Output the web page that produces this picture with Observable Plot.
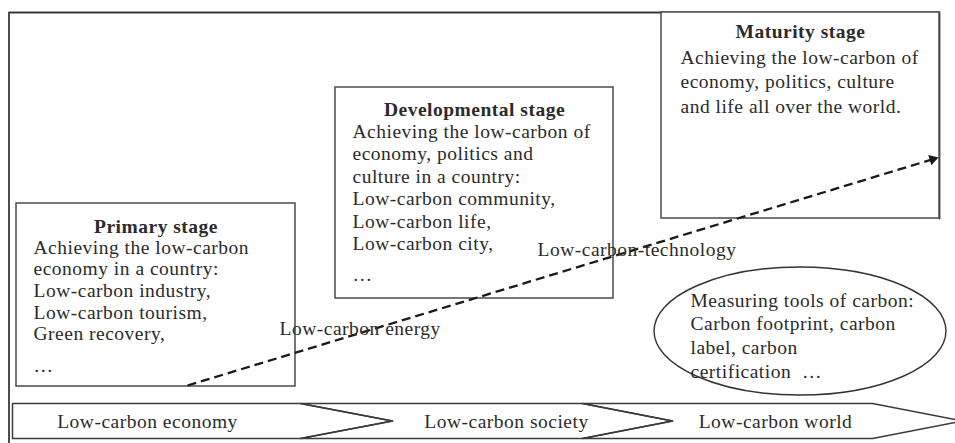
<!DOCTYPE html>
<html>
<head>
<meta charset="utf-8">
<script src="https://cdn.jsdelivr.net/npm/d3@7"></script>
<script src="https://cdn.jsdelivr.net/npm/@observablehq/plot@0.6"></script>
<style>
  html, body { margin: 0; padding: 0; background: #fff; }
  #chart svg { display: block; }
  #chart svg text { font-family: "Liberation Serif", "Times New Roman", serif; letter-spacing: 0.5px; }
</style>
</head>
<body>
<div id="chart"></div>
<script>
// ---------- content ----------
const stageTitles = ["Primary stage", "Developmental stage", "Maturity stage"];
const primaryLines = ["Achieving the low-carbon", "economy in a country:", "Low-carbon industry,", "Low-carbon tourism,", "Green recovery,"];
const developmentalLines = ["Achieving the low-carbon of", "economy, politics and", "culture in a country:", "Low-carbon community,", "Low-carbon life,", "Low-carbon city,"];
const maturityLines = ["Achieving the low-carbon of", "economy, politics, culture", "and life all over the world."];
const stageEllipsis = ["…", "…", null];
const flowLabels = ["Low-carbon economy", "Low-carbon society", "Low-carbon world"];
const trendLabels = ["Low-carbon energy", "Low-carbon-technology"];
const toolLines = ["Measuring tools of carbon:", "Carbon footprint, carbon", "label, carbon", "certification  …"];

// ---------- layout (diagram coordinates, pixels of a 955 x 443 canvas) ----------
const W = 955, H = 443;
const boxLayout = [
  {x1: 16,  y1: 203, x2: 295, y2: 386, titleY: 232, bodyX: 33,  bodyY: 253, lh: 21.7, dotsY: 371},
  {x1: 335, y1: 87,  x2: 613, y2: 298, titleY: 115, bodyX: 352, bodyY: 137, lh: 22.5, dotsY: 280},
  {x1: 661, y1: 12,  x2: 939, y2: 218, titleY: 37,  bodyX: 680, bodyY: 63,  lh: 24.5, dotsY: null}
];
const frameLayout = [{x: 8.5, y: H}, {x: 8.5, y: 12}, {x: 939, y: 12}, {x: 939, y: 218}];
const bandLayout = {top: 403, bottom: 438};
const chevronLayout = [
  {x0: 12,  x1: 300, tip: 392, labelX: 147, labelY: 427},
  {x0: 300, x1: 582, tip: 672, labelX: 506, labelY: 427},
  {x0: 582, x1: 872, tip: 962, labelX: 775, labelY: 427}
];
const trendLayout = {x1: 187, y1: 385, x2: 938, y2: 157};
const trendLabelLayout = [{x: 279, y: 334}, {x: 537, y: 255}];
const ellipseLayout = {cx: 800, cy: 331, rx: 146, ry: 64, textX: 690, textY: 306, lh: 23.7};

// ---------- derived tables ----------
const bodies = [primaryLines, developmentalLines, maturityLines];
const boxes = boxLayout.map((b, i) => ({...b, title: stageTitles[i]}));
const titleTexts = boxLayout.map((b, i) => ({x: (b.x1 + b.x2) / 2, y: b.titleY, text: stageTitles[i]}));
const startTexts = [];
boxLayout.forEach((b, i) => {
  bodies[i].forEach((t, j) => startTexts.push({x: b.bodyX, y: b.bodyY + j * b.lh, text: t}));
  if (stageEllipsis[i]) startTexts.push({x: b.bodyX, y: b.dotsY, text: stageEllipsis[i]});
});
trendLabelLayout.forEach((p, i) => startTexts.push({x: p.x, y: p.y, text: trendLabels[i]}));
toolLines.forEach((t, j) => startTexts.push({x: ellipseLayout.textX, y: ellipseLayout.textY + j * ellipseLayout.lh, text: t}));
const flowTexts = chevronLayout.map((c, i) => ({x: c.labelX, y: c.labelY, text: flowLabels[i]}));

const mid = (bandLayout.top + bandLayout.bottom) / 2;
const chevronPts = [];
chevronLayout.forEach((c, i) => {
  const pts = [
    {x: c.x0, y: bandLayout.top}, {x: c.x1, y: bandLayout.top}, {x: c.tip, y: mid},
    {x: c.x1, y: bandLayout.bottom}, {x: c.x0, y: bandLayout.bottom}
  ];
  if (i > 0) {
    const p = chevronLayout[i - 1];
    pts.push({x: c.x0 + (p.tip - p.x1), y: mid});
  }
  pts.push({...pts[0]});
  pts.forEach(p => chevronPts.push({...p, k: i}));
});

// arrow head
const T = trendLayout;
const len = Math.hypot(T.x2 - T.x1, T.y2 - T.y1);
const ux = (T.x2 - T.x1) / len, uy = (T.y2 - T.y1) / len;
const headR = 3.9;
const headOff = 2 * Math.sqrt(Math.PI * headR * headR / (3 * Math.sqrt(3)));
const head = [{x: T.x2 - ux * headOff, y: T.y2 - uy * headOff}];
const headAngle = Math.atan2(ux, -uy) * 180 / Math.PI;
const trendLine = [{x1: T.x1, y1: T.y1, x2: T.x2 - ux * headOff * 1.2, y2: T.y2 - uy * headOff * 1.2}];

const ink = "#2b2b2b", lineInk = "#4a4a4a";
const serif = "Liberation Serif";

const ellipseMark = (index, scales) => {
  const {x, y} = scales;
  const E = ellipseLayout;
  const el = d3.create("svg:ellipse")
    .attr("cx", x(E.cx)).attr("cy", y(E.cy))
    .attr("rx", x(E.cx + E.rx) - x(E.cx)).attr("ry", y(E.cy + E.ry) - y(E.cy))
    .attr("fill", "none").attr("stroke", "#333").attr("stroke-width", 1.4);
  return el.node();
};

const textOpts = {x: "x", y: "y", text: "text", lineAnchor: "bottom", fontSize: 19.5, fill: ink, fontFamily: serif};

const chart = Plot.plot({
  width: W,
  height: H,
  margin: 0,
  x: {domain: [0, W], range: [0, W], axis: null},
  y: {domain: [0, H], range: [0, H], axis: null},
  style: {background: "#fff"},
  marks: [
    Plot.line(frameLayout, {x: "x", y: "y", stroke: "#3a3a3a", strokeWidth: 1.8}),
    Plot.rect(boxes, {x1: "x1", y1: "y1", x2: "x2", y2: "y2", fill: "#fff", stroke: lineInk, strokeWidth: 1.5}),
    Plot.line(chevronPts, {x: "x", y: "y", z: "k", stroke: "#3a3a3a", strokeWidth: 1.5, fill: "none"}),
    ellipseMark,
    Plot.link(trendLine, {x1: "x1", y1: "y1", x2: "x2", y2: "y2", stroke: "#1a1a1a", strokeWidth: 2.3, strokeDasharray: "9,5"}),
    Plot.dot(head, {x: "x", y: "y", symbol: "triangle", r: headR, fill: "#1a1a1a", stroke: "none", rotate: headAngle}),
    Plot.text(titleTexts, {...textOpts, textAnchor: "middle", fontWeight: "bold"}),
    Plot.text(startTexts, {...textOpts, textAnchor: "start"}),
    Plot.text(flowTexts, {...textOpts, textAnchor: "middle"})
  ]
});
document.getElementById("chart").appendChild(chart);
</script>
</body>
</html>
